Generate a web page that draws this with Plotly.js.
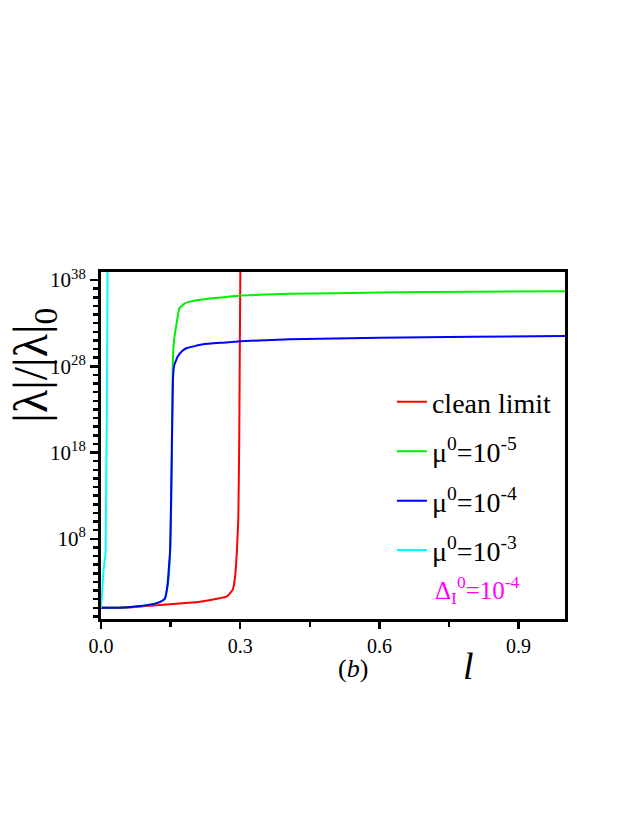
<!DOCTYPE html>
<html>
<head>
<meta charset="utf-8">
<script src="https://cdn.plot.ly/plotly-3.0.1.min.js"></script>
<style>html,body{margin:0;padding:0;background:#fff;}#chart{width:637px;height:824px;}</style>
</head>
<body>
<div id="chart"></div>
<script>
// Data
const seriesNames = ["clean limit", "μ<sup>0</sup>=10<sup>-5</sup>", "μ<sup>0</sup>=10<sup>-4</sup>", "μ<sup>0</sup>=10<sup>-3</sup>"];
const seriesColors = ["#FF0000", "#00EE00", "#0000FF", "#00FFFF"];

const cleanX = [0, 0.06, 0.12, 0.19, 0.213, 0.25, 0.272, 0.284, 0.289, 0.293, 0.296, 0.298, 0.301];
const cleanY = [1, 1.1, 2, 3.8, 5, 11, 21, 125, 4e3, 5e6, 3e10, 1e20, 1e45];

const mu5X = [0, 0.05, 0.085, 0.12, 0.133, 0.138, 0.145, 0.150, 0.153, 0.1547, 0.1575, 0.169, 0.18, 0.19, 0.22, 0.263, 0.301, 0.407, 0.6, 0.8, 1.0];
const mu5Y = [1, 1.1, 1.5, 3.4, 7, 12, 1e3, 1e8, 1e18, 2.5e28, 1.1e31, 5.4e34, 1.8e35, 2.9e35, 6e35, 1e36, 1.6e36, 2.5e36, 3.5e36, 4.5e36, 5e36];

const mu4X = [0, 0.05, 0.085, 0.12, 0.133, 0.138, 0.143, 0.149, 0.151, 0.155, 0.1575, 0.165, 0.175, 0.185, 0.22, 0.263, 0.301, 0.407, 0.6, 0.8, 1.0];
const mu4Y = [1, 1.1, 1.6, 3.5, 7, 13, 300, 5e6, 3e12, 2.5e26, 1.1e28, 1.3e29, 6e29, 1.3e30, 3.5e30, 5.5e30, 8e30, 1.4e31, 2e31, 2.6e31, 3.2e31];

const mu3X = [0, 0.002, 0.0056, 0.0099, 0.0142, 0.015];
const mu3Y = [1, 30, 2.5e4, 2.5e6, 6e38, 1e45];

const xTickVals = [0, 0.3, 0.6, 0.9];
const xTickText = ["0.0", "0.3", "0.6", "0.9"];
const xMinorVals = [0.15, 0.45, 0.75];
const yTickVals = [1e8, 1e18, 1e28, 1e38];
const yTickText = ["10<sup>8</sup>", "10<sup>18</sup>", "10<sup>28</sup>", "10<sup>38</sup>"];
const yMinorExps = [-1,0,1,2,3,4,5,6,7,8,9,10,11,12,13,14,15,16,17,18,19,20,21,22,23,24,25,26,27,28,29,30,31,32,33,34,35,36,37,38];

const xs = [cleanX, mu5X, mu4X, mu3X];
const ys = [cleanY, mu5Y, mu4Y, mu3Y];

const traces = xs.map((x, i) => ({
  x: x, y: ys[i], type: "scatter", mode: "lines",
  name: seriesNames[i], legendgroup: "g" + i,
  line: {color: seriesColors[i], width: 2, shape: "spline", smoothing: 0.3}
}));

const serif = "Liberation Serif";

const layout = {
  width: 637, height: 824,
  margin: {l: 101, r: 72, t: 272, b: 205},
  paper_bgcolor: "#fff", plot_bgcolor: "#fff",
  font: {family: serif, color: "#000", size: 20},
  showlegend: true,
  legend: {
    x: 0.627, y: 0.697, xanchor: "left", yanchor: "top",
    bgcolor: "rgba(0,0,0,0)", borderwidth: 0,
    font: {family: serif, size: 28, color: "#000"},
    tracegroupgap: 10, itemwidth: 30
  },
  xaxis: {
    range: [0, 1.0], showgrid: false, zeroline: false,
    showline: true, linecolor: "#000", linewidth: 3, mirror: true,
    ticks: "outside", ticklen: 7, tickwidth: 2.5, tickcolor: "#000",
    tickmode: "array", tickvals: xTickVals, ticktext: xTickText,
    tickfont: {family: serif, size: 20},
    minor: {tickvals: xMinorVals, ticks: "outside", ticklen: 5, tickwidth: 2.5, tickcolor: "#000", showgrid: false}
  },
  yaxis: {
    type: "log", range: [-1.3, 38.93], showgrid: false, zeroline: false,
    showline: true, linecolor: "#000", linewidth: 3, mirror: true,
    ticks: "outside", ticklen: 8, tickwidth: 2.5, tickcolor: "#000",
    tickmode: "array", tickvals: yTickVals, ticktext: yTickText,
    tickfont: {family: serif, size: 21},
    minor: {tickvals: yMinorExps.map(e => Math.pow(10, e)), ticks: "outside", ticklen: 5, tickwidth: 2.5, tickcolor: "#000", showgrid: false}
  },
  annotations: [
    {text: "|λ|/|λ|<sub>0</sub>", xref: "paper", yref: "paper", x: -0.145, y: 0.732,
     xanchor: "center", yanchor: "middle", textangle: -90, showarrow: false,
     font: {family: serif, size: 48, color: "#000"}},
    {text: "<i>l</i>", xref: "paper", yref: "paper", x: (468 - 101) / 464, y: (619 - 666) / 347,
     xanchor: "center", yanchor: "middle", showarrow: false,
     font: {family: serif, size: 38, color: "#000"}},
    {text: "(<i>b</i>)", xref: "paper", yref: "paper", x: (353 - 101) / 464, y: (619 - 668) / 347,
     xanchor: "center", yanchor: "middle", showarrow: false,
     font: {family: serif, size: 26, color: "#000"}},
    {text: "Δ<sub>I</sub><sup>0</sup>=10<sup>-4</sup>", xref: "paper", yref: "paper", x: (433 - 101) / 464, y: (619 - 590) / 347,
     xanchor: "left", yanchor: "middle", showarrow: false,
     font: {family: serif, size: 25, color: "#FF00FF"}}
  ]
};

Plotly.newPlot("chart", traces, layout, {displayModeBar: false, staticPlot: true});
</script>
</body>
</html>
